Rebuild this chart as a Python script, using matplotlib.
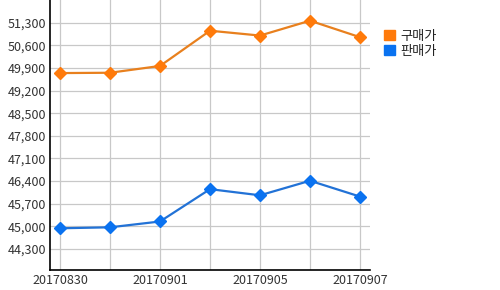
import matplotlib
matplotlib.use("Agg")
import matplotlib.pyplot as plt
from matplotlib.patches import Patch
from matplotlib.ticker import FuncFormatter

plt.rcParams['font.family'] = ['Noto Sans CJK KR', 'DejaVu Sans']

dates = ["20170830", "20170831", "20170901", "20170904", "20170905", "20170906", "20170907"]
buy = [49740, 49750, 49960, 51050, 50900, 51360, 50850]
sell = [44940, 44970, 45150, 46150, 45960, 46410, 45920]
series_names = ["구매가", "판매가"]
yticks = [44300, 45000, 45700, 46400, 47100, 47800, 48500, 49200, 49900, 50600, 51300]

fig = plt.figure(figsize=(5, 2.9), dpi=100)
ax = fig.add_axes([0.10, 0.069, 0.64, 0.931])

x = list(range(len(dates)))
orange_line, orange_mk = "#E8801E", "#FF7A0A"
blue_line, blue_mk = "#2272D6", "#0A72F0"
ax.plot(x, buy, color=orange_line, lw=1.6, marker="D", ms=6.5, mfc=orange_mk, mec=orange_mk, zorder=3)
ax.plot(x, sell, color=blue_line, lw=1.6, marker="D", ms=6.5, mfc=blue_mk, mec=blue_mk, zorder=3)

ax.set_xlim(-0.2, 6.2)
ax.set_ylim(43650, 52000)
ax.set_yticks(yticks)
ax.yaxis.set_major_formatter(FuncFormatter(lambda v, p: f"{int(v):,}"))
ax.set_xticks(x)
ax.set_xticklabels([d if i % 2 == 0 else "" for i, d in enumerate(dates)])
ax.grid(True, color="#C8C8C8", lw=0.9)
ax.set_axisbelow(True)
for s in ["top", "right"]:
    ax.spines[s].set_visible(False)
for s in ["left", "bottom"]:
    ax.spines[s].set_color("black")
    ax.spines[s].set_linewidth(1.2)
ax.tick_params(length=0, labelsize=9, colors="#333333", pad=3)

handles = [Patch(color=orange_mk), Patch(color=blue_mk)]
fig.legend(handles, series_names, loc="upper left", bbox_to_anchor=(0.755, 0.92),
           frameon=False, fontsize=9.5, handlelength=0.85, handleheight=0.85,
           handletextpad=0.35, labelspacing=0.15, borderpad=0, labelcolor="#222222")

fig.savefig("out.png", dpi=100)
